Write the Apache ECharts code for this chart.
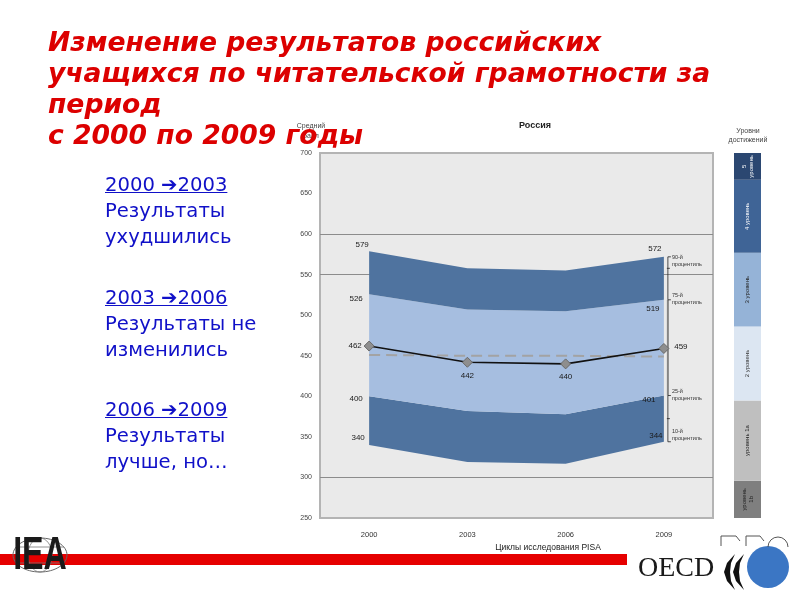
<!DOCTYPE html>
<html><head><meta charset="utf-8">
<script src="https://cdn.jsdelivr.net/npm/echarts@6/dist/echarts.min.js"></script>
<style>
html,body{margin:0;padding:0;background:#fff;}
#wrap{position:relative;width:800px;height:600px;overflow:hidden;background:#fff;}
#chart{position:absolute;left:0;top:0;width:800px;height:600px;}
#title{position:absolute;left:48px;top:26px;font-family:'DejaVu Sans';font-weight:bold;font-style:italic;font-size:26.6px;line-height:31px;color:#DC0000;white-space:nowrap;z-index:5;}
.grp{position:absolute;left:105px;font-family:'DejaVu Sans';font-size:19.6px;line-height:26px;color:#1010C8;white-space:nowrap;z-index:5;}
.grp u{text-decoration:underline;}
</style></head>
<body>
<div id="wrap">
<div id="chart"></div>
<div id="title">Изменение результатов российских<br>учащихся по читательской грамотности за<br>период<br>с 2000 по 2009 годы</div>
<div class="grp" style="top:172px;"><u>2000 ➔2003</u><br>Результаты<br>ухудшились</div>
<div class="grp" style="top:285px;"><u>2003 ➔2006</u><br>Результаты не<br>изменились</div>
<div class="grp" style="top:397px;"><u>2006 ➔2009</u><br>Результаты<br>лучше, но…</div>
</div>
<script>
// ---- data ----
const years = ['2000', '2003', '2006', '2009'];
const p90 = [579, 558, 555, 572];
const p75 = [526, 507, 505, 519];
const mean = [462, 442, 440, 459];
const p25 = [400, 382, 378, 401];
const p10 = [340, 319, 317, 344];
const oecdAvg = [451, 450, 450, 449];
const pctNames = ['90-й\nпроцентиль', '75-й\nпроцентиль', '25-й\nпроцентиль', '10-й\nпроцентиль'];
const levelNames = ['уровень\n1b', 'уровень 1a', '2 уровень', '3 уровень', '4 уровень', '5\nуровень'];
const levelBounds = [250, 296, 395, 486, 577, 667, 700];
const gridLevels = [300, 550, 600];

// ---- styles ----
const FONT = 'Liberation Sans';
const darkBand = '#4F739F';
const lightBand = '#A6BEE0';
const levelColors = ['#7F7F7F', '#BFBFBF', '#DCE6F2', '#95B3D7', '#3F6496', '#2B4771'];
const levelText = ['#222', '#222', '#333', '#222', '#fff', '#fff'];

const chart = echarts.init(document.getElementById('chart'), null, {renderer: 'canvas'});

function band(vals, color, name) {
  return {
    type: 'line', name: name, stack: 'band', data: vals, symbol: 'none',
    lineStyle: {width: 0, opacity: 0}, areaStyle: {color: color || '#000', opacity: color ? 1 : 0},
    silent: true, z: 2, xAxisIndex: 0, yAxisIndex: 0
  };
}
const d1 = p25.map((v, i) => v - p10[i]);
const d2 = p75.map((v, i) => v - p25[i]);
const d3 = p90.map((v, i) => v - p75[i]);

function labelSeries(vals, offsets) {
  return {
    type: 'line', data: vals.map((v, i) => offsets[i] ? {value: v, label: {show: true, position: 'inside', offset: offsets[i]}} : {value: v, label: {show: false}}),
    symbol: 'circle', symbolSize: 1, itemStyle: {color: 'rgba(0,0,0,0)'},
    lineStyle: {width: 0, opacity: 0}, silent: true, z: 7,
    label: {color: '#1a1a1a', fontSize: 8, fontFamily: FONT}
  };
}

const levelBase = levelBounds[0];
const levelSeries = levelNames.map((nm, i) => ({
  type: 'bar', stack: 'lv', xAxisIndex: 1, yAxisIndex: 1, barWidth: '100%',
  data: [levelBounds[i + 1] - levelBounds[i]], silent: true,
  itemStyle: {color: levelColors[i]},
  label: {show: true, position: 'inside', rotate: 90, formatter: nm, fontSize: 6, lineHeight: 7,
          fontFamily: FONT, color: levelText[i]}
}));

const option = {
  animation: false,
  backgroundColor: 'transparent',
  grid: [
    {left: 320, right: 87, top: 153, bottom: 82, show: true, backgroundColor: '#EAEAEA', borderColor: '#B4B4B4', borderWidth: 2},
    {left: 734, width: 27, top: 153, bottom: 82, show: false}
  ],
  xAxis: [
    {type: 'category', data: years, gridIndex: 0, boundaryGap: true,
     axisLine: {show: false}, axisTick: {show: false}, splitLine: {show: false},
     axisLabel: {fontSize: 7.5, color: '#333', fontFamily: FONT, margin: 13}},
    {type: 'category', data: ['L'], gridIndex: 1, show: false}
  ],
  yAxis: [
    {type: 'value', gridIndex: 0, min: 250, max: 700, interval: 50,
     axisLine: {show: false}, axisTick: {show: false}, splitLine: {show: false},
     axisLabel: {fontSize: 7, color: '#444', fontFamily: FONT, margin: 8}},
    {type: 'value', gridIndex: 1, min: 0, max: levelBounds[levelBounds.length - 1] - levelBase, show: false}
  ],
  series: [
    Object.assign(band(p10, null, 'base'), {
      markLine: {silent: true, symbol: 'none', z: 1, label: {show: false},
                 lineStyle: {color: '#8C8C8C', width: 1, type: 'solid'},
                 data: gridLevels.map(v => ({yAxis: v}))}
    }),
    band(d1, darkBand, 'p10-25'),
    band(d2, lightBand, 'p25-75'),
    band(d3, darkBand, 'p75-90'),
    {type: 'line', data: oecdAvg, symbol: 'none', silent: true, z: 4,
     lineStyle: {color: '#A3A3A3', width: 2, type: [11, 6]}},
    {type: 'line', data: mean.map((v, i) => ({value: v, label: {offset: [[-14, 0], [0, 14], [0, 13], [17, -2]][i]}})),
     symbol: 'diamond', symbolSize: 10, z: 6, silent: true,
     lineStyle: {color: '#111', width: 1.6},
     itemStyle: {color: '#8E8E8E', borderColor: '#6A6A6A', borderWidth: 1},
     label: {show: true, position: 'inside', color: '#1a1a1a', fontSize: 8, fontFamily: FONT}},
    labelSeries(p90, [[-7, -6], null, null, [-9, -8]]),
    labelSeries(p75, [[-13, 5], null, null, [-11, 9]]),
    labelSeries(p25, [[-13, 2], null, null, [-15, 4]]),
    labelSeries(p10, [[-11, -7], null, null, [-8, -6]]),
    {type: 'custom', xAxisIndex: 0, yAxisIndex: 0, z: 6, silent: true,
     data: [[3, p90[3], p75[3], p25[3], p10[3]]],
     renderItem: function (params, api) {
       const cx = api.coord([api.value(0), api.value(1)])[0] + 4;
       const ys = [1, 2, 3, 4].map(k => api.coord([api.value(0), api.value(k)])[1]);
       const ch = [];
       const ln = (x1, y1, x2, y2, c, w) => ch.push({type: 'line', shape: {x1, y1, x2, y2}, style: {stroke: c, lineWidth: w}});
       ln(cx, ys[0], cx, ys[1], '#222', 0.8);
       ln(cx, ys[1], cx, ys[2], '#858585', 2);
       ln(cx, ys[2], cx, ys[3], '#222', 0.8);
       ys.forEach(y => ln(cx, y, cx + 3, y, '#222', 0.8));
       ln(cx - 1, (ys[0] + ys[1]) / 2 - 10, cx + 2, (ys[0] + ys[1]) / 2 - 10, '#222', 0.8);
       ln(cx - 1, (ys[2] + ys[3]) / 2, cx + 2, (ys[2] + ys[3]) / 2, '#222', 0.8);
       const yoff = [4, -1, -1, -7];
       ys.forEach((y, k) => ch.push({type: 'text', style: {text: pctNames[k], x: cx + 4, y: y + yoff[k],
         fill: '#333', font: '5.5px ' + FONT, lineHeight: 7, textAlign: 'left', textVerticalAlign: 'middle'}}));
       return {type: 'group', children: ch};
     }},
    ...levelSeries
  ],
  graphic: [
    {type: 'text', x: 535, y: 126, style: {text: 'Россия', font: 'bold 9px ' + FONT, fill: '#222', textAlign: 'center', textVerticalAlign: 'middle'}},
    {type: 'text', x: 311, y: 121, style: {text: 'Средний\nбалл', font: '7px ' + FONT, lineHeight: 10, fill: '#444', textAlign: 'center', textVerticalAlign: 'top'}},
    {type: 'text', x: 748, y: 127, style: {text: 'Уровни\nдостижений', font: '7px ' + FONT, lineHeight: 9, fill: '#444', textAlign: 'center', textVerticalAlign: 'top'}},
    {type: 'text', x: 548, y: 548, style: {text: 'Циклы исследования PISA', font: '8.5px "Liberation Sans Narrow", ' + FONT, fill: '#222', textAlign: 'center', textVerticalAlign: 'middle'}},
    // red bar
    {type: 'rect', shape: {x: 0, y: 554, width: 627, height: 11}, style: {fill: '#E60000'}, z: 10},
    // IEA logo
    {type: 'ellipse', shape: {cx: 40, cy: 555, rx: 27, ry: 17}, style: {fill: 'none', stroke: '#666', lineWidth: 1}, z: 11},
    {type: 'ellipse', shape: {cx: 40, cy: 555, rx: 12, ry: 17}, style: {fill: 'none', stroke: '#777', lineWidth: 0.8}, z: 11},
    {type: 'line', shape: {x1: 16, y1: 547, x2: 64, y2: 547}, style: {stroke: '#777', lineWidth: 0.8}, z: 11},
    {type: 'line', shape: {x1: 16, y1: 563, x2: 64, y2: 563}, style: {stroke: '#777', lineWidth: 0.8}, z: 11},
    {type: 'text', x: 40, y: 556, scaleX: 0.7, style: {text: 'IEA', font: 'bold 46px ' + FONT, fill: '#1a1a1a', textAlign: 'center', textVerticalAlign: 'middle'}, z: 12},
    // OECD logo
    {type: 'text', x: 638, y: 569, style: {text: 'OECD', font: '28px "Liberation Serif"', fill: '#1a1a1a', textAlign: 'left', textVerticalAlign: 'middle'}, z: 11},
    {type: 'polygon', shape: {points: [[735, 554], [727, 563], [724, 572], [727, 581], [735, 590], [731, 581], [730, 572], [731, 563]]}, style: {fill: '#111'}, z: 11},
    {type: 'polygon', shape: {points: [[744, 554], [736, 563], [733, 572], [736, 581], [744, 590], [740, 581], [739, 572], [740, 563]]}, style: {fill: '#111'}, z: 11},
    {type: 'circle', shape: {cx: 768, cy: 567, r: 21}, style: {fill: '#3B76C4'}, z: 11},
    {type: 'polyline', shape: {points: [[721, 546], [721, 536], [736, 536], [740, 541]]}, style: {stroke: '#555', lineWidth: 1, fill: 'none'}, z: 11},
    {type: 'polyline', shape: {points: [[746, 546], [746, 536], [760, 536], [764, 541]]}, style: {stroke: '#555', lineWidth: 1, fill: 'none'}, z: 11},
    {type: 'arc', shape: {cx: 778, cy: 547, r: 10, startAngle: Math.PI, endAngle: 2 * Math.PI}, style: {stroke: '#555', lineWidth: 1, fill: 'none'}, z: 11}
  ]
};
chart.setOption(option);
</script>
</body></html>
